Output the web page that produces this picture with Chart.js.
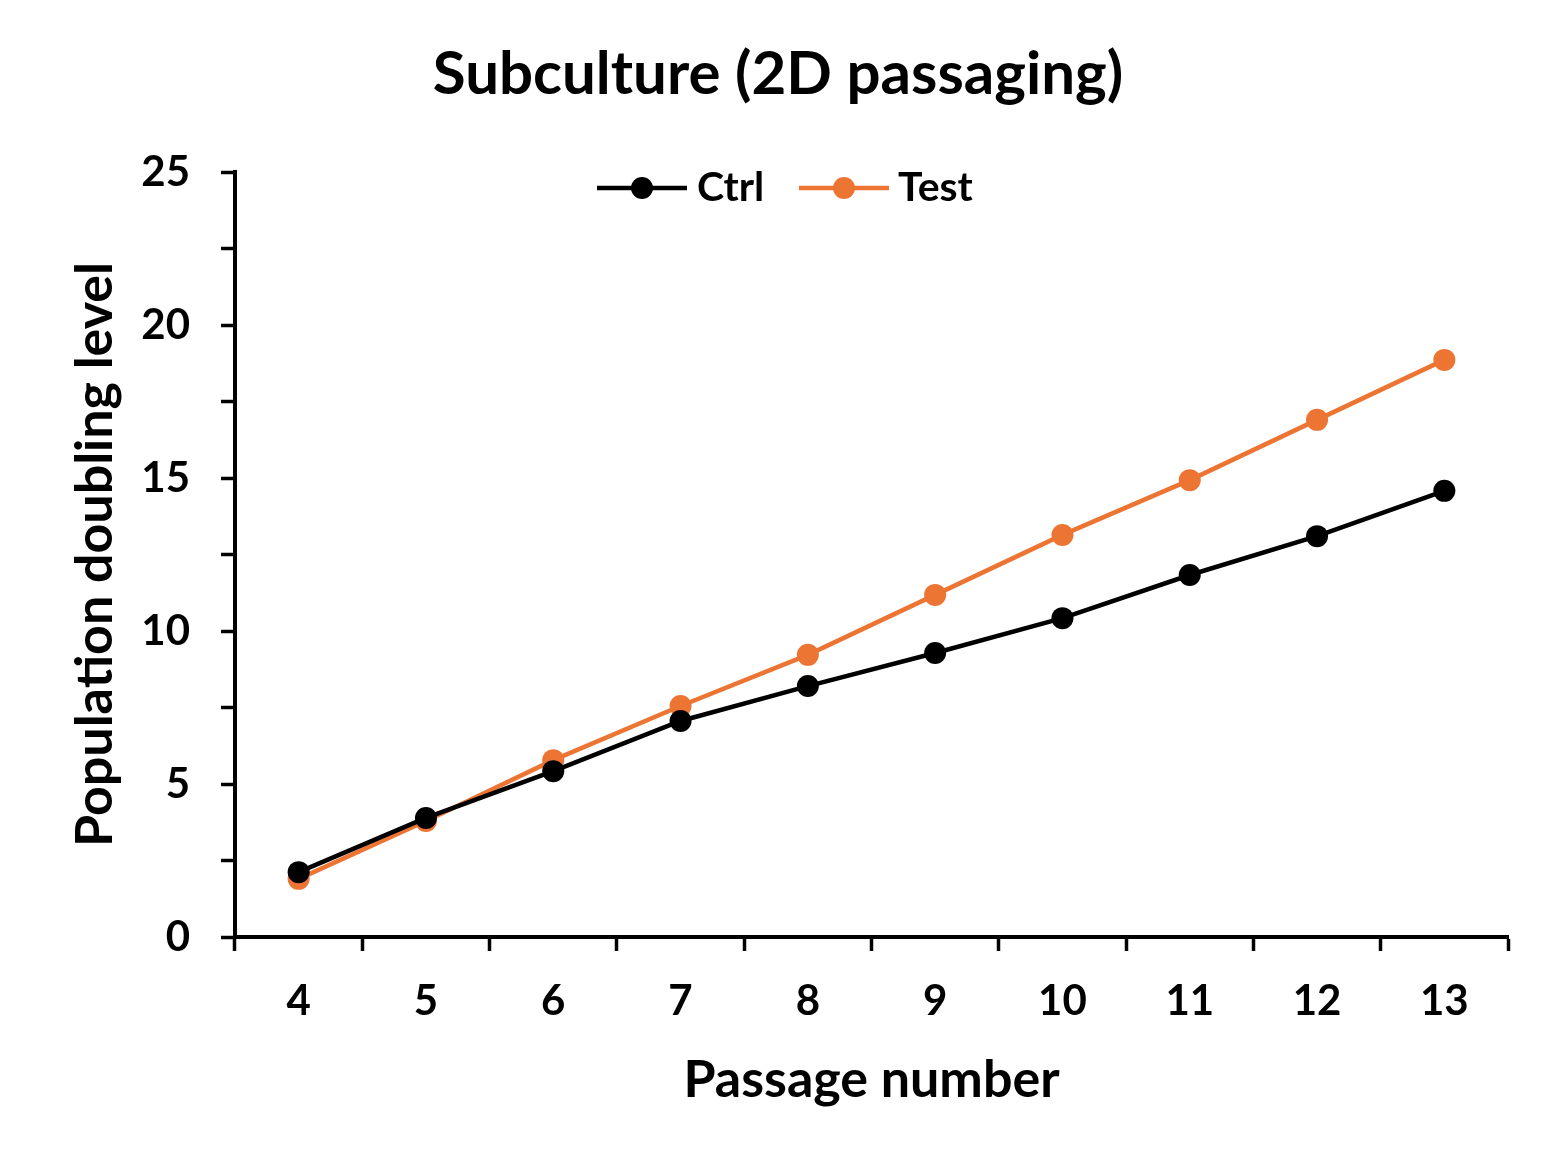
<!DOCTYPE html>
<html><head><meta charset="utf-8">
<script src="https://cdn.jsdelivr.net/npm/chart.js@4"></script>
<style>html,body{margin:0;padding:0;background:#fff}#wrap{width:1559px;height:1169px}</style>
</head><body><div id="wrap"><canvas id="c" width="1559" height="1169"></canvas></div>
<script>
const categories = ['4','5','6','7','8','9','10','11','12','13'];
const ctrlValues = [2.12, 3.89, 5.42, 7.06, 8.2, 9.28, 10.42, 11.83, 13.1, 14.58];
const testValues = [1.9, 3.79, 5.78, 7.55, 9.22, 11.18, 13.14, 14.93, 16.9, 18.86];
const seriesNames = ['Ctrl', 'Test'];
const titleText = 'Subculture (2D passaging)';
const xTitle = 'Passage number';
const yTitle = 'Population doubling level';

const FONT = 'Lato';

const legendPlugin = {
  id: 'customLegend',
  afterDraw(chart) {
    const ctx = chart.ctx;
    const items = [{x: 597, tx: 697}, {x: 799, tx: 898}];
    ctx.save();
    chart.data.datasets.forEach((ds, i) => {
      const y = 188, it = items[i];
      ctx.strokeStyle = ds.borderColor; ctx.lineWidth = 4.5;
      ctx.beginPath(); ctx.moveTo(it.x, y); ctx.lineTo(it.x + 90, y); ctx.stroke();
      ctx.fillStyle = ds.backgroundColor;
      ctx.beginPath(); ctx.arc(it.x + 45, y, 11, 0, Math.PI * 2); ctx.fill();
      ctx.fillStyle = '#000'; ctx.font = 'bold 41px ' + FONT;
      ctx.textBaseline = 'middle'; ctx.textAlign = 'left';
      ctx.fillText(ds.label, it.tx, y);
    });
    ctx.restore();
  }
};
const titlePlugin = {
  id: 'customTitle',
  afterDraw(chart) {
    const ctx = chart.ctx;
    ctx.save();
    ctx.fillStyle = '#000'; ctx.font = 'bold 60px ' + FONT;
    ctx.textAlign = 'center'; ctx.textBaseline = 'middle';
    ctx.fillText(titleText, 778, 75);
    ctx.restore();
  }
};

new Chart(document.getElementById('c'), {
  type: 'line',
  data: {
    labels: categories,
    datasets: [
      {label: seriesNames[0], data: ctrlValues, borderColor: '#000000', backgroundColor: '#000000', borderWidth: 4.5, pointRadius: 11, pointHoverRadius: 11, pointBorderWidth: 0},
      {label: seriesNames[1], data: testValues, borderColor: '#EC7533', backgroundColor: '#EC7533', borderWidth: 4.5, pointRadius: 11, pointHoverRadius: 11, pointBorderWidth: 0}
    ]
  },
  options: {
    responsive: false, animation: false, devicePixelRatio: 1,
    layout: {padding: {top: 172, right: 51, bottom: 0, left: 0}},
    plugins: {legend: {display: false}, title: {display: false}, tooltip: {enabled: false}},
    scales: {
      x: {
        offset: true,
        grid: {offset: true, drawOnChartArea: false, drawTicks: true, tickLength: 14, tickWidth: 3.5, tickColor: '#000'},
        border: {color: '#000', width: 4},
        ticks: {color: '#000', font: {family: FONT, weight: 'bold', size: 42}, padding: 25, maxRotation: 0},
        title: {display: true, text: xTitle, color: '#000', font: {family: FONT, weight: 'bold', size: 52}, padding: {top: 0, bottom: 58}},
        afterFit(s) { s.height = 1169 - 937; }
      },
      y: {
        min: 0, max: 25,
        grid: {drawOnChartArea: false, drawTicks: true, tickLength: 14, tickWidth: 3.5, tickColor: '#000'},
        border: {color: '#000', width: 4},
        ticks: {stepSize: 2.5, color: '#000', font: {family: FONT, weight: 'bold', size: 42}, padding: 31,
          callback: v => (v % 5 === 0 ? String(v) : '')},
        title: {display: true, text: yTitle, color: '#000', font: {family: FONT, weight: 'bold', size: 52}, padding: {top: 64, bottom: 0}},
        afterFit(s) { s.width = 235; }
      }
    }
  },
  plugins: [legendPlugin, titlePlugin]
});
</script></body></html>
